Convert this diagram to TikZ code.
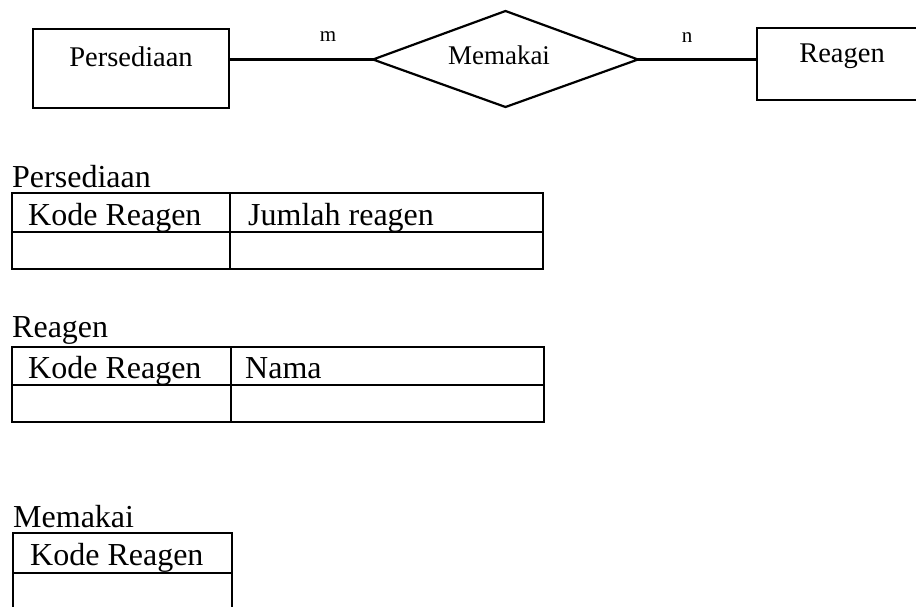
\documentclass[tikz,border=0pt]{standalone}
\usepackage{fontspec}
\setmainfont{Liberation Serif}
\usetikzlibrary{shapes.geometric}
\begin{document}
\begin{tikzpicture}[x=1pt,y=-1pt,
  ent/.style={draw,line width=2pt,inner sep=0pt},
  conn/.style={line width=2.2pt},
  tbl/.style={line width=1.6pt},
  toptxt/.style={inner sep=0pt,anchor=base,font=\fontsize{28.5}{28.5}\selectfont},
  card/.style={inner sep=0pt,anchor=base,font=\fontsize{21}{21}\selectfont},
  title/.style={inner sep=0pt,anchor=base west,font=\fontsize{32}{32}\selectfont},
  cell/.style={inner sep=0pt,anchor=base west,font=\fontsize{32}{32}\selectfont}]
\useasboundingbox (0,0) rectangle (916,607);
\clip (0,0) rectangle (916,607);
% ER diagram
\node[ent,minimum width=196pt,minimum height=79pt] (pers) at (131,68.5) {};
\node[toptxt] (perst) at (131,67) {Persediaan};
\node[ent,minimum width=200pt,minimum height=72pt] (reag) at (857,64) {};
\node[toptxt] (reagt) at (842,63) {Reagen};
\coordinate (dl) at (373,59.5);
\coordinate (dr) at (638,59.5);
\coordinate (dt) at (505.5,11);
\coordinate (db) at (505.5,107);
\draw[conn,line join=miter] (dl) -- (dt) -- (dr) -- (db) -- cycle;
\node[toptxt,font=\fontsize{27}{27}\selectfont] (memt) at (499,65) {Memakai};
\draw[conn] (pers.east |- dl) -- (dl);
\draw[conn] (dr) -- (reag.west |- dr);
\node[card] (m) at (328,42) {m};
\node[card] (n) at (687,43) {n};
% Table Persediaan
\node[title] (t1) at (12,187) {Persediaan};
\draw[tbl] (12,193) rectangle (543,269);
\draw[tbl] (12,232) -- (543,232);
\draw[tbl] (230,193) -- (230,269);
\node[cell] (t1a) at (28,225) {Kode Reagen};
\node[cell] (t1b) at (248,225) {Jumlah reagen};
% Table Reagen
\node[title] (t2) at (12,337) {Reagen};
\draw[tbl] (12,347) rectangle (544,422);
\draw[tbl] (12,385) -- (544,385);
\draw[tbl] (231,347) -- (231,422);
\node[cell] (t2a) at (28,378) {Kode Reagen};
\node[cell] (t2b) at (245,378) {Nama};
% Table Memakai
\node[title] (t3) at (13,527) {Memakai};
\draw[tbl] (13,620) -- (13,533) -- (232,533) -- (232,620);
\draw[tbl] (13,573) -- (232,573);
\node[cell] (t3a) at (30,565) {Kode Reagen};
\end{tikzpicture}
\end{document}
